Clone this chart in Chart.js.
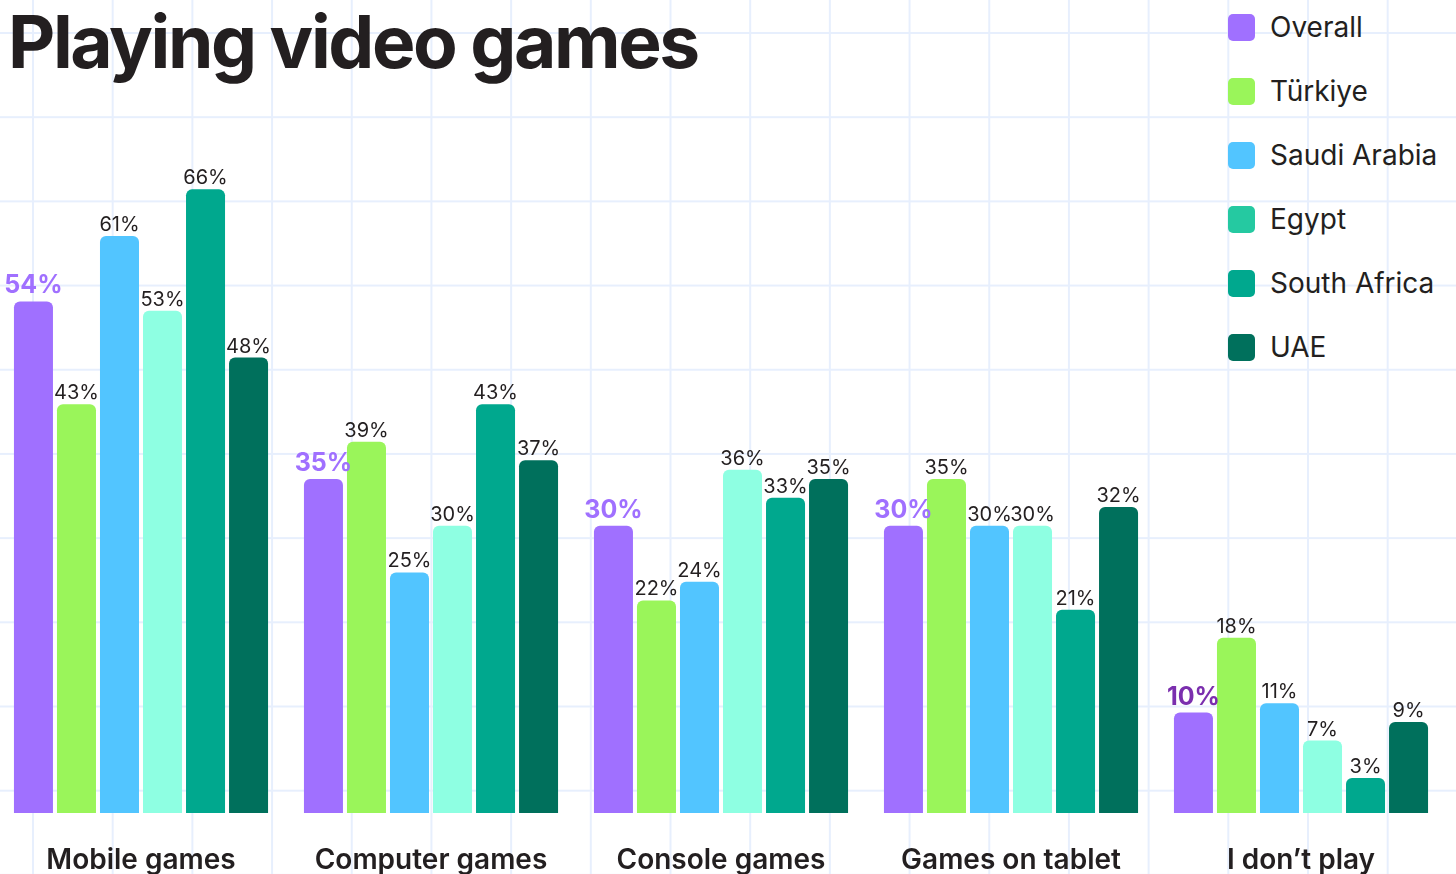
<!DOCTYPE html>
<html>
<head>
<meta charset="utf-8">
<title>Playing video games</title>
<script src="https://cdn.jsdelivr.net/npm/chart.js"></script>
<style>
  html, body { margin: 0; padding: 0; }
  body {
    width: 1456px;
    height: 874px;
    overflow: hidden;
    position: relative;
    background-color: #ffffff;
    /* light blue squared paper */
    background-image:
      linear-gradient(to right, #e7effd 2px, transparent 2px),
      linear-gradient(to bottom, #e7effd 2px, transparent 2px);
    background-size: 79.7px 84.2px;
    background-position: 32px 32px;
    font-family: Inter, "Noto Sans", sans-serif;
    color: #231f20;
  }
  h1 {
    position: absolute;
    left: 8px;
    top: 5px;
    margin: 0;
    font-size: 73px;
    line-height: 1;
    font-weight: 700;
    letter-spacing: -2.4px;
  }
  #legend {
    position: absolute;
    left: 1228px;
    top: -5px;
    margin: 0;
    padding: 0;
    list-style: none;
  }
  #legend li {
    display: flex;
    align-items: center;
    height: 64px;
    font-size: 28px;
    line-height: 1;
    white-space: nowrap;
  }
  #legend .box {
    width: 27px;
    height: 27px;
    border-radius: 5px;
    margin-right: 15px;
  }
  #chart { position: absolute; left: -4px; top: 0; }
</style>
</head>
<body>
<h1>Playing video games</h1>
<ul id="legend"></ul>
<canvas id="chart" width="1460" height="874"></canvas>
<script>
// categories and series, values in %
const categories = ['Mobile games', 'Computer games', 'Console games', 'Games on tablet', 'I don’t play'];
const seriesNames = ['Overall', 'Türkiye', 'Saudi Arabia', 'Egypt', 'South Africa', 'UAE'];
const overall     = [54, 35, 30, 30, 10];
const turkiye     = [43, 39, 22, 35, 18];
const saudiArabia = [61, 25, 24, 30, 11];
const egypt       = [53, 30, 36, 30, 7];
const southAfrica = [66, 43, 33, 21, 3];
const uae         = [48, 37, 35, 32, 9];

const barColors    = ['#a070ff', '#9af55a', '#52c5ff', '#8effe2', '#00a88e', '#00705c'];
const legendColors = ['#a070ff', '#9af55a', '#52c5ff', '#25c9a1', '#00a88e', '#00705c'];

const seriesValues = [overall, turkiye, saudiArabia, egypt, southAfrica, uae];

// legend on the right
const legendEl = document.getElementById('legend');
seriesNames.forEach((name, i) => {
  const li = document.createElement('li');
  const box = document.createElement('span');
  box.className = 'box';
  box.style.background = legendColors[i];
  li.appendChild(box);
  li.appendChild(document.createTextNode(name));
  legendEl.appendChild(li);
});

const axisBase = -0.75;

// percentage above every bar, the Overall one bigger and purple
const valueLabels = {
  id: 'valueLabels',
  afterDatasetsDraw(chart) {
    const ctx = chart.ctx;
    ctx.save();
    ctx.textAlign = 'center';
    ctx.textBaseline = 'alphabetic';
    chart.data.datasets.forEach((ds, i) => {
      const meta = chart.getDatasetMeta(i);
      meta.data.forEach((bar, j) => {
        if (i === 0) {
          ctx.font = '700 25px Inter';
          ctx.fillStyle = j === categories.length - 1 ? '#7b2fae' : '#a070ff';
          ctx.fillText(ds.data[j] + '%', bar.x, bar.y - 8);
        } else {
          ctx.font = '400 20px Inter';
          ctx.fillStyle = '#231f20';
          ctx.fillText(ds.data[j] + '%', bar.x, bar.y - 5);
        }
      });
    });
    ctx.restore();
  }
};

const ctx = document.getElementById('chart').getContext('2d');
new Chart(ctx, {
  type: 'bar',
  data: {
    labels: categories,
    datasets: seriesNames.map((name, i) => ({
      label: name,
      data: seriesValues[i],
      backgroundColor: barColors[i],
      base: axisBase,
      borderRadius: 6,
      borderSkipped: 'start',
      categoryPercentage: 0.89,
      barPercentage: 0.907
    }))
  },
  options: {
    responsive: false,
    animation: false,
    layout: { padding: { left: 0, right: 10, top: 152, bottom: -35 } },
    plugins: {
      legend: { display: false },
      tooltip: { enabled: false }
    },
    scales: {
      x: {
        grid: { display: false, drawTicks: false },
        border: { display: false },
        ticks: {
          color: '#231f20',
          padding: 34,
          font: { family: 'Inter', size: 28, weight: '600', lineHeight: 1 }
        }
      },
      y: {
        display: false,
        min: axisBase,
        max: 70
      }
    }
  },
  plugins: [valueLabels]
});
</script>
</body>
</html>
